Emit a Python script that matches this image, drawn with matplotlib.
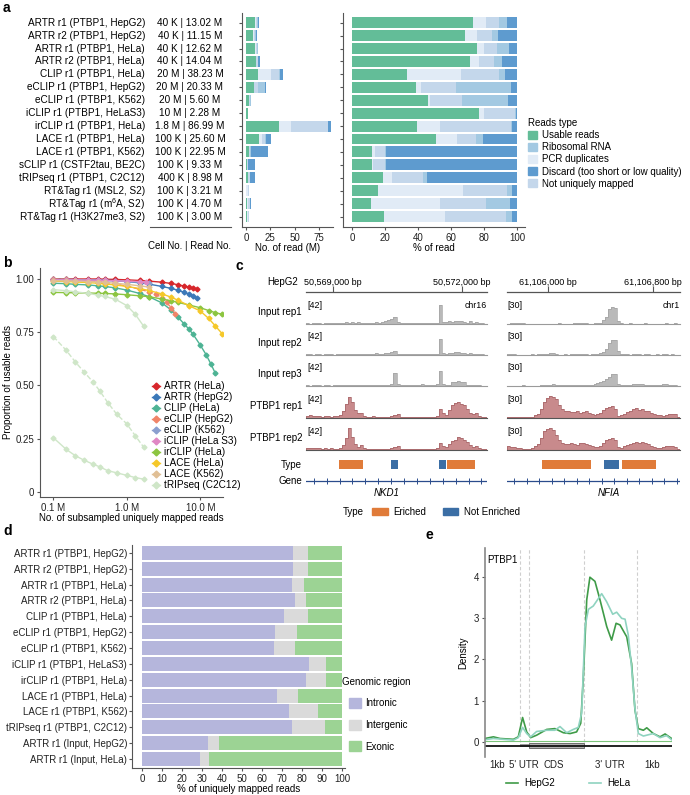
import numpy as np
import matplotlib
matplotlib.use("Agg")
import matplotlib.pyplot as plt
from matplotlib.patches import Patch
from matplotlib.lines import Line2D
from matplotlib import transforms

plt.rcParams['font.family'] = ['Liberation Sans', 'DejaVu Sans']
plt.rcParams['font.size'] = 7
plt.rcParams['mathtext.fontset'] = 'custom'
plt.rcParams['mathtext.rm'] = 'Liberation Sans'
plt.rcParams['axes.linewidth'] = 0.8
plt.rcParams['axes.edgecolor'] = '#555555'
plt.rcParams['xtick.color'] = '#555555'
plt.rcParams['ytick.color'] = '#555555'
plt.rcParams['xtick.labelcolor'] = '#222222'
plt.rcParams['ytick.labelcolor'] = '#222222'

# ---------------- panel a data ----------------
samples_a = ["ARTR r1 (PTBP1, HepG2)", "ARTR r2 (PTBP1, HepG2)", "ARTR r1 (PTBP1, HeLa)",
             "ARTR r2 (PTBP1, HeLa)", "CLIP r1 (PTBP1, HeLa)", "eCLIP r1 (PTBP1, HepG2)",
             "eCLIP r1 (PTBP1, K562)", "iCLIP r1 (PTBP1, HeLaS3)", "irCLIP r1 (PTBP1, HeLa)",
             "LACE r1 (PTBP1, HeLa)", "LACE r1 (PTBP1, K562)", "sCLIP r1 (CSTF2tau, BE2C)",
             "tRIPseq r1 (PTBP1, C2C12)", "RT&Tag r1 (MSL2, S2)", "RT&Tag r1 (m$^6$A, S2)",
             "RT&Tag r1 (H3K27me3, S2)"]
cells_a = ["40 K", "40 K", "40 K", "40 K", "20 M", "20 M", "20 M", "10 M", "1.8 M",
           "100 K", "100 K", "100 K", "400 K", "100 K", "100 K", "100 K"]
reads_a = [13.02, 11.15, 12.62, 14.04, 38.23, 20.33, 5.60, 2.28, 86.99,
           25.60, 22.95, 9.33, 8.98, 3.21, 4.70, 3.00]
# percent of reads per type (stacking order left -> right)
pct_usable = [73.0, 68.4, 76.0, 71.6, 33.2, 39.0, 46.3, 76.9, 39.2, 50.7, 12.0, 12.0, 18.5, 15.5, 11.7, 19.3]
pct_pcr = [8.0, 7.2, 3.7, 5.1, 32.8, 3.0, 1.0, 2.8, 14.1, 12.7, 1.7, 1.0, 5.5, 51.5, 41.6, 37.2]
pct_nonuniq = [8.0, 9.1, 8.3, 9.3, 23.3, 21.0, 19.6, 18.9, 43.3, 11.6, 6.3, 7.0, 19.0, 27.0, 27.7, 37.0]
pct_ribo = [5.0, 3.6, 7.0, 4.7, 3.3, 33.4, 27.7, 1.0, 0.6, 4.5, 0.5, 0.5, 2.7, 3.0, 14.6, 3.3]
pct_discard = [6.0, 11.7, 5.0, 9.3, 7.4, 3.6, 5.4, 0.4, 2.8, 20.5, 79.5, 79.5, 54.3, 3.0, 4.4, 3.2]

col_usable = "#63bd98"
col_ribo = "#a3c9e2"
col_pcr = "#e1ebf6"
col_discard = "#5e9bcf"
col_nonuniq = "#c4d7eb"

# ---------------- panel b data ----------------
b_series = [
    ("ARTR (HeLa)", "#d7262b", "-",
     [0.1, 0.15, 0.2, 0.3, 0.4, 0.5, 0.7, 1, 1.5, 2, 3, 4, 5, 6, 7, 8, 9],
     [1.0, 1.0, 1.0, 1.0, 1.0, 0.999, 0.998, 0.996, 0.993, 0.99, 0.985, 0.979, 0.973, 0.967, 0.962, 0.957, 0.952]),
    ("ARTR (HepG2)", "#3b78b8", "-",
     [0.1, 0.15, 0.2, 0.3, 0.4, 0.5, 0.7, 1, 1.5, 2, 3, 4, 5, 6, 7, 8, 9],
     [0.998, 0.998, 0.997, 0.996, 0.995, 0.994, 0.992, 0.988, 0.982, 0.976, 0.965, 0.956, 0.947, 0.938, 0.929, 0.92, 0.91]),
    ("CLIP (HeLa)", "#4db394", "-",
     [0.1, 0.15, 0.2, 0.3, 0.4, 0.5, 0.7, 1, 1.5, 2, 3, 4, 5, 6, 7, 8, 10, 12, 14, 16],
     [0.98, 0.978, 0.975, 0.972, 0.968, 0.965, 0.958, 0.948, 0.932, 0.917, 0.888, 0.855, 0.82, 0.79, 0.765, 0.74, 0.69, 0.645, 0.6, 0.558]),
    ("eCLIP (HepG2)", "#f08468", "--",
     [0.1, 0.15, 0.2, 0.3, 0.4, 0.5, 0.7, 1, 1.5, 2, 2.5, 3, 3.5, 4, 4.6],
     [1.0, 0.998, 0.996, 0.992, 0.988, 0.984, 0.977, 0.966, 0.952, 0.94, 0.928, 0.912, 0.89, 0.865, 0.835]),
    ("eCLIP (K562)", "#8b9fcf", "-",
     [0.1, 0.15, 0.2, 0.3, 0.4, 0.5, 0.7, 1, 1.5, 2],
     [0.997, 0.997, 0.996, 0.995, 0.994, 0.993, 0.991, 0.988, 0.985, 0.982]),
    ("iCLIP (HeLa S3)", "#e087c4", "-",
     [0.1, 0.15, 0.2, 0.3, 0.4, 0.5, 0.7, 1, 1.5, 1.8],
     [0.996, 0.996, 0.995, 0.995, 0.994, 0.993, 0.992, 0.99, 0.988, 0.986]),
    ("irCLIP (HeLa)", "#8cc540", "-",
     [0.1, 0.15, 0.2, 0.3, 0.4, 0.5, 0.7, 1, 1.5, 2, 3, 4, 5, 7, 10, 13, 16, 20],
     [0.937, 0.936, 0.935, 0.934, 0.933, 0.932, 0.93, 0.926, 0.921, 0.917, 0.906, 0.898, 0.89, 0.878, 0.865, 0.852, 0.842, 0.834]),
    ("LACE (HeLa)", "#f5c829", "-",
     [0.1, 0.15, 0.2, 0.3, 0.4, 0.5, 0.7, 1, 1.5, 2, 3, 4, 5, 7, 10, 13, 16, 20],
     [0.99, 0.988, 0.986, 0.983, 0.98, 0.977, 0.972, 0.965, 0.955, 0.946, 0.93, 0.915, 0.9, 0.875, 0.85, 0.815, 0.78, 0.742]),
    ("LACE (K562)", "#e0bf95", "-",
     [0.1, 0.15, 0.2, 0.3, 0.4, 0.5, 0.7, 1, 1.5, 2],
     [0.992, 0.991, 0.99, 0.988, 0.986, 0.984, 0.98, 0.975, 0.968, 0.962]),
    ("tRIPseq (C2C12)", "#cfe6c8", "-",
     [0.1, 0.15, 0.2, 0.3, 0.4, 0.5, 0.7, 1, 1.3, 1.7],
     [0.95, 0.945, 0.94, 0.932, 0.925, 0.918, 0.905, 0.875, 0.835, 0.778]),
    (None, "#cfe6c8", "--",
     [0.1, 0.15, 0.2, 0.26, 0.35, 0.43, 0.55, 0.73, 1.0, 1.3, 1.7],
     [0.73, 0.665, 0.61, 0.565, 0.515, 0.474, 0.42, 0.365, 0.32, 0.265, 0.21]),
    (None, "#cfe6c8", "-",
     [0.1, 0.15, 0.2, 0.26, 0.35, 0.43, 0.55, 0.73, 1.0, 1.3, 1.7],
     [0.255, 0.2, 0.17, 0.15, 0.13, 0.118, 0.1, 0.09, 0.078, 0.068, 0.06]),
]

# ---------------- panel c data ----------------
left_range = (50568372, 50572581)
right_range = (61105688, 61107006)
left_ticks = [50569000, 50572000]
right_ticks = [61106000, 61106800]
track_names = ["Input rep1", "Input rep2", "Input rep3", "PTBP1 rep1", "PTBP1 rep2"]
cov_left = [
    [1, 0, 1, 2, 1, 0, 1, 1, 2, 1, 1, 2, 1, 3, 2, 4, 1, 3, 2, 1, 2, 1, 2, 3, 2, 3, 5, 7, 9, 14,
     3, 1, 1, 2, 1, 1, 2, 1, 2, 1, 2, 1, 1, 2, 36, 4, 3, 5, 4, 6, 5, 6, 3, 2, 5, 2, 4, 1, 1, 0],
    [1, 1, 0, 1, 1, 0, 1, 1, 1, 0, 1, 1, 2, 1, 2, 1, 1, 2, 1, 1, 2, 1, 2, 3, 2, 2, 3, 4, 5, 8,
     2, 1, 1, 1, 1, 1, 1, 2, 1, 1, 1, 2, 1, 2, 30, 3, 2, 4, 3, 6, 5, 3, 4, 2, 3, 2, 2, 1, 1, 0],
    [1, 0, 1, 1, 1, 0, 1, 1, 0, 1, 1, 1, 1, 2, 1, 2, 1, 1, 2, 1, 1, 1, 1, 2, 1, 2, 2, 2, 3, 24,
     3, 1, 1, 1, 2, 1, 2, 1, 4, 2, 1, 2, 2, 4, 28, 3, 1, 2, 8, 8, 9, 8, 7, 2, 1, 1, 1, 1, 0, 0],
    [4, 5, 3, 4, 3, 2, 3, 4, 2, 3, 3, 5, 14, 26, 41, 30, 16, 9, 10, 3, 2, 2, 3, 2, 2, 1, 2, 2, 3, 6,
     8, 2, 1, 1, 1, 2, 1, 2, 1, 2, 1, 2, 2, 4, 18, 9, 6, 16, 24, 28, 31, 27, 24, 18, 10, 8, 10, 3, 2, 1],
    [3, 4, 3, 3, 4, 2, 3, 2, 3, 2, 2, 4, 10, 22, 42, 25, 12, 6, 9, 3, 2, 2, 1, 2, 2, 1, 2, 2, 3, 5,
     7, 2, 1, 1, 1, 1, 2, 1, 1, 2, 1, 2, 2, 3, 13, 7, 5, 12, 17, 20, 24, 22, 20, 16, 9, 6, 8, 3, 2, 1],
]
cov_right = [
    [0, 1, 1, 1, 2, 1, 0, 0, 0, 0, 0, 0, 0, 0, 0, 0, 0, 1, 0, 0, 0, 0, 1, 2, 2, 2, 1, 0, 0, 1,
     1, 2, 5, 9, 20, 23, 22, 4, 1, 0, 0, 1, 0, 0, 0, 0, 1, 0, 0, 0, 0, 0, 0, 1, 0, 0, 1, 0],
    [1, 1, 1, 0, 0, 0, 0, 0, 1, 0, 1, 1, 1, 1, 3, 3, 1, 0, 0, 1, 0, 1, 1, 1, 2, 1, 1, 0, 1, 1,
     2, 3, 4, 8, 17, 21, 20, 5, 1, 1, 1, 0, 1, 1, 1, 0, 1, 1, 0, 0, 1, 0, 1, 1, 0, 1, 0, 0],
    [0, 0, 0, 0, 0, 1, 0, 0, 0, 0, 0, 1, 1, 1, 2, 3, 2, 2, 1, 1, 2, 2, 2, 2, 1, 2, 2, 1, 2, 3,
     4, 5, 7, 9, 12, 17, 16, 3, 1, 1, 1, 2, 3, 3, 3, 3, 2, 1, 1, 1, 1, 2, 3, 3, 2, 1, 1, 0],
    [2, 2, 1, 2, 1, 1, 2, 1, 2, 4, 6, 12, 22, 27, 30, 28, 26, 18, 12, 9, 9, 8, 8, 9, 7, 8, 10, 7, 6, 4,
     5, 7, 11, 14, 15, 16, 12, 3, 4, 6, 8, 10, 12, 13, 11, 12, 10, 9, 7, 5, 4, 4, 3, 4, 5, 6, 5, 2],
    [5, 4, 4, 3, 3, 2, 2, 2, 3, 5, 8, 16, 26, 29, 30, 27, 20, 14, 10, 8, 8, 9, 8, 7, 9, 10, 8, 7, 6, 4,
     4, 6, 10, 14, 15, 16, 14, 4, 3, 5, 7, 8, 10, 11, 10, 11, 9, 8, 6, 4, 3, 3, 4, 5, 6, 6, 4, 2],
]
peaks_left = [(50569147, 50569705, "Enriched"), (50570342, 50570505, "Not Enriched"),
              (50571466, 50571628, "Not Enriched"), (50571645, 50572303, "Enriched")]
peaks_right = [(61105957, 61106328, "Enriched"), (61106429, 61106539, "Not Enriched"),
               (61106564, 61106823, "Enriched")]
type_colors = {"Enriched": "#e07b39", "Not Enriched": "#3b6ea5"}

# ---------------- panel d data ----------------
samples_d = ["ARTR r1 (PTBP1, HepG2)", "ARTR r2 (PTBP1, HepG2)", "ARTR r1 (PTBP1, HeLa)",
             "ARTR r2 (PTBP1, HeLa)", "CLIP r1 (PTBP1, HeLa)", "eCLIP r1 (PTBP1, HepG2)",
             "eCLIP r1 (PTBP1, K562)", "iCLIP r1 (PTBP1, HeLaS3)", "irCLIP r1 (PTBP1, HeLa)",
             "LACE r1 (PTBP1, HeLa)", "LACE r1 (PTBP1, K562)", "tRIPseq r1 (PTBP1, C2C12)",
             "ARTR r1 (Input, HepG2)", "ARTR r1 (Input, HeLa)"]
intronic = [75.5, 75.5, 75.0, 76.5, 70.9, 66.4, 65.9, 83.4, 81.8, 67.7, 73.6, 75.1, 33.1, 29.1]
intergenic = [7.4, 7.4, 5.8, 5.5, 12.0, 10.9, 10.7, 8.7, 10.3, 10.1, 14.3, 16.5, 5.6, 4.2]
exonic = [100 - a - b for a, b in zip(intronic, intergenic)]
col_intronic = "#b5b6dc"
col_intergenic = "#dadada"
col_exonic = "#9cd394"

# ---------------- panel e data ----------------
e_bounds = [18.7, 23.7, 52.9, 81.1]
e_labels = ["1kb", "5' UTR", "CDS", "3' UTR", "1kb"]
e_label_pos = [6.4, 20.6, 37.0, 66.8, 89.3]
hepg2_u = [0, 4.5, 8.0, 15.2, 17.8, 20.1, 22.3, 24.4, 27.6, 33.0, 37.4, 41.9, 45.5, 49.0, 51.2, 52.6, 54.4,
           56.1, 58.8, 61.5, 65.1, 67.7, 70.1, 72.2, 75.8, 78.4, 80.2, 82.0, 84.7, 86.5, 90.0, 93.6, 96.3, 99.8]
hepg2_d = [0.08, 0.12, 0.08, 0.06, 0.12, 0.59, 0.24, 0.10, 0.16, 0.30, 0.32, 0.22, 0.20, 0.24, 0.45, 1.58, 3.45,
           4.00, 3.90, 3.45, 2.80, 2.47, 2.88, 2.84, 2.55, 1.90, 0.77, 0.32, 0.28, 0.34, 0.20, 0.12, 0.19, 0.08]
hela_u = [0, 4.5, 15.2, 17.8, 20.1, 22.3, 24.4, 27.6, 33.0, 37.4, 40.1, 43.7, 47.2, 49.9, 51.7, 53.5, 55.3,
          57.9, 62.4, 65.1, 68.3, 70.4, 73.1, 74.9, 76.6, 78.4, 80.2, 82.0, 84.7, 90.0, 93.6, 97.1, 99.8]
hela_d = [0.05, 0.08, 0.04, 0.10, 0.35, 0.20, 0.12, 0.25, 0.28, 0.28, 0.37, 0.22, 0.30, 0.35, 0.70, 2.80, 3.22,
          3.30, 3.60, 3.40, 3.10, 3.15, 3.00, 2.98, 2.60, 1.80, 0.80, 0.20, 0.14, 0.20, 0.10, 0.15, 0.05]

# ---------------- figure ----------------
W, H = 690, 795
fig = plt.figure(figsize=(W / 100, H / 100), dpi=100)


def px_axes(x0, y0, x1, y1):
    return fig.add_axes([x0 / W, 1 - y1 / H, (x1 - x0) / W, (y1 - y0) / H])


def fx(x):
    return x / W


def fy(y):
    return 1 - y / H


def style(ax):
    ax.spines['top'].set_visible(False)
    ax.spines['right'].set_visible(False)
    ax.tick_params(length=2.5, width=0.8, pad=1.5)


for lab, x, y in [("a", 3, 8), ("b", 3, 263), ("c", 236, 266), ("d", 3, 531), ("e", 425, 535)]:
    fig.text(fx(x), fy(y), lab, fontsize=10, fontweight='bold', va='center', ha='left')

# ----- panel a -----
ypos = np.arange(len(samples_a))
reads = np.array(reads_a)
stack = [(pct_usable, col_usable), (pct_pcr, col_pcr), (pct_nonuniq, col_nonuniq),
         (pct_ribo, col_ribo), (pct_discard, col_discard)]

ax1 = px_axes(242, 13, 333, 227)
left = np.zeros(len(ypos))
for vals, col in stack:
    w = reads * np.array(vals) / 100
    ax1.barh(ypos, w, left=left, height=0.85, color=col, linewidth=0)
    left += w
ax1.set_ylim(15.81, -0.75)
ax1.set_xlim(-4.1, 89.5)
ax1.set_xticks([0, 25, 50, 75])
ax1.set_yticks(ypos)
ax1.set_yticklabels([])
ax1.set_xlabel("No. of read (M)", labelpad=0)
style(ax1)

ax2 = px_axes(343, 13, 525, 227)
left = np.zeros(len(ypos))
for vals, col in stack:
    ax2.barh(ypos, vals, left=left, height=0.85, color=col, linewidth=0)
    left += np.array(vals)
ax2.set_ylim(15.81, -0.75)
ax2.set_xlim(-5.45, 104.8)
ax2.set_xticks([0, 20, 40, 60, 80, 100])
ax2.set_yticks(ypos)
ax2.set_yticklabels([])
ax2.set_xlabel("% of read", labelpad=0)
style(ax2)

tr = transforms.blended_transform_factory(fig.transFigure, ax1.transData)
for i, (s, c, r) in enumerate(zip(samples_a, cells_a, reads_a)):
    ax1.text(fx(145), i, s, transform=tr, ha='right', va='center', fontsize=7.2)
    ax1.text(fx(190), i, f"{c} | {r:.2f} M", transform=tr, ha='center', va='center', fontsize=7.2)
fig.add_artist(Line2D([fx(150), fx(231)], [fy(227), fy(227)], color='#555555', lw=0.8))
fig.text(fx(190), fy(246), "Cell No. | Read No.", ha='center', va='center')

handles_a = [Patch(color=col_usable, label="Usable reads"), Patch(color=col_ribo, label="Ribosomal RNA"),
             Patch(color=col_pcr, label="PCR duplicates"),
             Patch(color=col_discard, label="Discard (too short or low quality)"),
             Patch(color=col_nonuniq, label="Not uniquely mapped")]
fig.legend(handles=handles_a, title="Reads type", loc='upper left', bbox_to_anchor=(fx(528), fy(118)),
           frameon=False, handlelength=0.9, handleheight=0.9, labelspacing=0.22, handletextpad=0.5,
           alignment='left', title_fontsize=7, borderaxespad=0, borderpad=0)

# ----- panel b -----
axb = px_axes(40, 268, 223, 497)
for lab, col, ls, xs, ys in b_series:
    axb.plot(xs, ys, color=col, ls=ls, lw=1.0, marker='D', ms=2.5, label=lab)
axb.set_xscale('log')
axb.set_xlim(0.0659, 20.4)
axb.set_ylim(-0.0235, 1.0516)
axb.set_xticks([0.1, 1, 10])
axb.set_xticklabels(["0.1 M", "1.0 M", "10.0 M"])
axb.minorticks_off()
axb.set_yticks([0, 0.25, 0.5, 0.75, 1.0])
axb.set_yticklabels(["0", "0.25", "0.50", "0.75", "1.00"])
axb.set_ylabel("Proportion of usable reads", labelpad=2)
axb.set_xlabel("No. of subsampled uniquely mapped reads", labelpad=0)
style(axb)
hb = [Line2D([], [], color=col, marker='D', ms=3.5, lw=1.0, label=lab)
      for lab, col, ls, xs, ys in b_series if lab]
fig.legend(handles=hb, loc='upper left', bbox_to_anchor=(fx(152), fy(381)), frameon=False,
           handlelength=0.8, handletextpad=0.4, labelspacing=0.1, borderaxespad=0, borderpad=0,
           fontsize=7.2)

# ----- panel c -----
baselines = [324, 355, 386, 418, 450]
fig.text(fx(298), fy(282), "HepG2", ha='right', va='center')
for (x0, x1), rng, ticks in [((306, 487), left_range, left_ticks), ((507, 680), right_range, right_ticks)]:
    axc = px_axes(x0, 270, x1, 292)
    axc.set_xlim(*rng)
    axc.set_ylim(0, 1)
    axc.axis('off')
    axc.axhline(0, color='#555555', lw=0.9, clip_on=False)
    axc.vlines(ticks, 0, 0.25, color='#555555', lw=0.8)
    for t in ticks:
        axc.text(t, 0.45, f"{t:,} bp", ha='center', va='center', fontsize=6.5)

for j, name in enumerate(track_names):
    b = baselines[j]
    fig.text(fx(302), fy(b - 12), name, ha='right', va='center')
    is_ptbp1 = name.startswith("PTBP1")
    fill = "#c88a8c" if is_ptbp1 else "#b9b9b9"
    edge = "#a56366" if is_ptbp1 else "#a3a3a3"
    line = "#555555" if is_ptbp1 else "#9a9a9a"
    for (x0, x1), rng, cov, ymax, chrom in [((306, 487), left_range, cov_left[j], 42, "chr16"),
                                            ((507, 680), right_range, cov_right[j], 30, "chr1")]:
        axt = px_axes(x0, b - 22, x1, b)
        edges = np.linspace(rng[0], rng[1], len(cov) + 1)
        axt.stairs(cov, edges, fill=True, color=fill, lw=0)
        axt.stairs(cov, edges, color=edge, lw=0.5)
        axt.set_xlim(*rng)
        axt.set_ylim(0, ymax)
        axt.axis('off')
        axt.axhline(0, color=line, lw=0.8, clip_on=False)
        axt.text(0.005, 1.03, f"[{ymax}]", transform=axt.transAxes, ha='left', va='top', fontsize=6.5)
        if j == 0:
            axt.text(1.0, 1.03, chrom, transform=axt.transAxes, ha='right', va='top', fontsize=6.3)

fig.text(fx(302), fy(465), "Type", ha='right', va='center')
fig.text(fx(302), fy(481), "Gene", ha='right', va='center')
for (x0, x1), rng, peaks, gstep, gname, gx in [((306, 487), left_range, peaks_left, 300, "NKD1", 50570250),
                                               ((507, 680), right_range, peaks_right, 95, "NFIA", 61106460)]:
    axty = px_axes(x0, 460, x1, 469)
    for s, e, t in peaks:
        axty.barh(0, e - s, left=s, height=1, color=type_colors[t], linewidth=0)
    axty.set_xlim(*rng)
    axty.set_ylim(-0.5, 0.5)
    axty.axis('off')

    axg = px_axes(x0, 476, x1, 486)
    axg.set_xlim(*rng)
    axg.set_ylim(-1, 1)
    axg.axis('off')
    axg.axhline(0, color='#2b4c8c', lw=0.9)
    gt = np.arange(rng[0] + gstep * 0.6, rng[1], gstep)
    axg.plot(gt, np.zeros(len(gt)), ls='none', marker='|', ms=4, mew=0.7, color='#2b4c8c')
    axg.text(gx, -1.4, gname, ha='center', va='top', style='italic')

fig.text(fx(343), fy(512), "Type", ha='left', va='center')
fig.legend(handles=[Patch(color=type_colors["Enriched"], label="Eriched"),
                    Patch(color=type_colors["Not Enriched"], label="Not Enriched")],
           loc='center left', bbox_to_anchor=(fx(372), fy(512)), ncol=2, frameon=False,
           handlelength=1.6, handleheight=0.6, handletextpad=0.6, columnspacing=1.7,
           borderaxespad=0, borderpad=0)

# ----- panel d -----
axd = px_axes(132, 545, 345, 768)
yd = np.arange(len(samples_d))
axd.barh(yd, intronic, height=0.88, color=col_intronic, linewidth=0)
axd.barh(yd, intergenic, left=intronic, height=0.88, color=col_intergenic, linewidth=0)
axd.barh(yd, exonic, left=np.array(intronic) + np.array(intergenic), height=0.88, color=col_exonic, linewidth=0)
axd.set_ylim(13.57, -0.5)
axd.set_xlim(-5, 101.5)
axd.set_xticks(np.arange(0, 101, 10))
axd.set_yticks(yd)
axd.set_yticklabels(samples_d)
axd.set_xlabel("% of uniquely mapped reads", labelpad=0)
style(axd)
axd.tick_params(axis='y', length=2, pad=1.5)
fig.text(fx(342), fy(682), "Genomic region", ha='left', va='center')
fig.legend(handles=[Patch(color=col_intronic, label="Intronic"), Patch(color=col_intergenic, label="Intergenic"),
                    Patch(color=col_exonic, label="Exonic")],
           loc='upper left', bbox_to_anchor=(fx(349), fy(698)), frameon=False,
           handlelength=1.25, handleheight=1.25, labelspacing=1.15, handletextpad=0.4,
           borderaxespad=0, borderpad=0)

# ----- panel e -----
axe = px_axes(485, 548, 672, 757)
axe.vlines(e_bounds, 0, 4.71, colors='#cfcfcf', linestyles=(0, (3, 2)), lw=0.8)
axe.axhline(0.02, color='#7cc47a', lw=0.8)
axe.plot(hepg2_u, hepg2_d, color='#3f9b48', lw=1.2)
axe.plot(hela_u, hela_d, color='#8fd3c0', lw=1.2)
axe.hlines(-0.1, 0, 100, color='#111111', lw=1.3)
axe.barh(-0.1, e_bounds[1] - e_bounds[0], left=e_bounds[0], height=0.07, color='#9a9a9a', lw=0)
axe.barh(-0.1, e_bounds[2] - e_bounds[1], left=e_bounds[1], height=0.12, color='#b0b0b0',
         edgecolor='#444444', lw=0.5)
axe.set_xlim(0, 100)
axe.set_ylim(-0.37, 4.71)
axe.set_yticks([0, 1, 2, 3, 4])
axe.set_xticks(e_label_pos)
axe.set_xticklabels(e_labels)
axe.tick_params(axis='x', length=0, pad=2)
axe.tick_params(axis='y', length=2.5, pad=2)
for sp in ['top', 'right', 'bottom']:
    axe.spines[sp].set_visible(False)
axe.spines['left'].set_color('#888888')
axe.spines['left'].set_linewidth(1.2)
axe.set_ylabel("Density", labelpad=4)
axe.text(0.012, 0.943, "PTBP1", transform=axe.transAxes, ha='left', va='center')
fig.legend(handles=[Line2D([], [], color='#3f9b48', lw=1.2, label="HepG2"),
                    Line2D([], [], color='#8fd3c0', lw=1.2, label="HeLa")],
           loc='center', bbox_to_anchor=(fx(568), fy(783)), ncol=2, frameon=False,
           handlelength=1.3, handletextpad=0.6, columnspacing=3.5, borderaxespad=0, borderpad=0)

fig.savefig("out.png", dpi=100)
